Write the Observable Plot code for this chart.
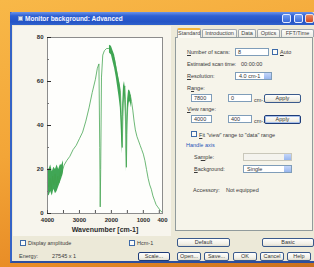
<!DOCTYPE html>
<html><head><meta charset="utf-8">
<script src="https://cdn.jsdelivr.net/npm/d3@7"></script>
<script src="https://cdn.jsdelivr.net/npm/@observablehq/plot@0.6"></script>
<style>
html,body{margin:0;padding:0;width:314px;height:267px;overflow:hidden;}
body{position:relative;background:linear-gradient(165deg,#f8b848 0%,#f3a537 45%,#e88c26 78%,#c96f1d 100%);font-family:"Liberation Sans",Arial,sans-serif;}
.a{position:absolute;box-sizing:border-box;}
.t{font-size:5.5px;line-height:6px;color:#3a3a3a;white-space:nowrap;}
.box{background:#fff;border:1px solid #7f9db9;font-size:5.5px;line-height:6px;color:#333;padding-left:2px;white-space:nowrap;}
.btn{border:1px solid #3a5a8c;border-radius:2px;background:linear-gradient(#fefefd,#f1efe6 70%,#dedbd0);font-size:5.5px;line-height:7px;color:#333;text-align:center;white-space:nowrap;}
.chk{width:6px;height:6px;border:1px solid #3d6aa8;background:#fbfbf8;}
.drop{background:#fff;border:1px solid #7f9db9;font-size:5.5px;line-height:6px;color:#333;padding-left:3px;}
.drop::after{content:"";position:absolute;right:0;top:0;width:7px;height:100%;background:linear-gradient(#c4d6fa,#98b6ee);}
.tab{height:8px;top:29px;border:1px solid #a0a8b0;border-bottom:none;background:linear-gradient(#fdfdfb,#ecebe4);font-size:5.5px;line-height:7px;color:#444;text-align:center;white-space:nowrap;border-radius:2px 2px 0 0;}
u{text-decoration:underline;}
#chart svg text{fill:#2b2b2b;}
</style></head>
<body>
<div class="a" id="win" style="left:10px;top:12px;width:306px;height:251px;background:#ece9d8;border-left:2px solid #3563c6;border-bottom:2px solid #2d4f9e;"></div>
<div class="a" style="left:10px;top:12px;width:304px;height:13px;background:linear-gradient(#6b93ea,#2f60d2 30%,#2454c6 75%,#3062cc);border-radius:3px 3px 0 0;"></div>
<div class="a" style="left:18px;top:16px;width:5px;height:5px;background:#dfe6f4;border:1px solid #8aa0c8;"></div>
<div class="a" style="left:25px;top:15px;font-size:6.5px;line-height:7px;font-weight:bold;color:#f4f6ff;white-space:nowrap;">Monitor background: Advanced</div>
<div class="a" style="left:282px;top:14px;width:9px;height:9px;border:1px solid #dfe8ff;border-radius:2px;background:linear-gradient(#6f9af0,#3a6ad8);"></div>
<div class="a" style="left:294px;top:14px;width:9px;height:9px;border:1px solid #e8eeff;border-radius:2px;background:linear-gradient(#7aa2f2,#3c6cd8);"></div>
<div class="a" style="left:305px;top:14px;width:9px;height:9px;border:1px solid #f2e0d8;border-radius:2px;background:linear-gradient(#ec8a60,#cf4a22);"></div>

<div class="a" style="left:13px;top:26px;width:158px;height:210px;background:#f7f5ed;"></div>
<div class="a" id="chart" style="left:10px;top:25px;width:160px;height:212px;"></div>

<div class="a chk" style="left:20px;top:240px;"></div>
<div class="a t" style="left:28px;top:240px;">Display amplitude</div>
<div class="a chk" style="left:129px;top:240px;"></div>
<div class="a t" style="left:137px;top:240px;">Hcm-1</div>
<div class="a t" style="left:19px;top:253px;">Energy:</div>
<div class="a t" style="left:52px;top:253px;">27545 x 1</div>

<!-- tabs -->
<div class="a" style="left:175px;top:37px;width:138px;height:194px;background:#f6f4ea;border:1px solid #919b9c;"></div>
<div class="a tab" style="left:177px;top:28px;height:10px;width:24px;background:#faf9f3;border-top:2px solid #f2b53a;">Standard</div>
<div class="a tab" style="left:202px;width:35px;">Introduction</div>
<div class="a tab" style="left:238px;width:18px;">Data</div>
<div class="a tab" style="left:257px;width:23px;">Optics</div>
<div class="a tab" style="left:281px;width:33px;">FFT/Time</div>

<div class="a t" style="left:187px;top:49px;"><u>N</u>umber of scans:</div>
<div class="a box" style="left:235px;top:48px;width:34px;height:8px;">8</div>
<div class="a chk" style="left:272px;top:49px;"></div>
<div class="a t" style="left:280px;top:49px;"><u>A</u>uto</div>
<div class="a t" style="left:187px;top:61px;letter-spacing:-0.1px;">Estimated scan time:</div>
<div class="a t" style="left:241px;top:61px;">00:00:00</div>
<div class="a t" style="left:187px;top:73px;"><u>R</u>esolution:</div>
<div class="a drop" style="left:235px;top:72px;width:37px;height:8px;">4.0 cm-1</div>
<div class="a t" style="left:187px;top:85px;">R<u>a</u>nge:</div>
<div class="a box" style="left:191px;top:94px;width:21px;height:8px;">7800</div>
<div class="a box" style="left:228px;top:94px;width:24px;height:8px;">0</div>
<div class="a t" style="left:254px;top:97px;">cm-1</div>
<div class="a btn" style="left:264px;top:94px;width:37px;height:9px;">Apply</div>
<div class="a t" style="left:187px;top:106px;"><u>V</u>iew range:</div>
<div class="a box" style="left:191px;top:115px;width:21px;height:8px;">4000</div>
<div class="a box" style="left:228px;top:115px;width:24px;height:8px;">400</div>
<div class="a t" style="left:254px;top:118px;">cm-1</div>
<div class="a btn" style="left:264px;top:115px;width:37px;height:9px;border:1px solid #1e3c78;box-shadow:inset 0 0 0 1px #a8c0ec;">Apply</div>
<div class="a chk" style="left:191px;top:131px;"></div>
<div class="a t" style="left:199px;top:132px;"><u>F</u>it "view" range to "data" range</div>
<div class="a t" style="left:186px;top:142px;color:#2a55b8;">Handle axis</div>
<div class="a t" style="left:194px;top:154px;">Sa<u>m</u>ple:</div>
<div class="a drop" style="left:243px;top:153px;width:49px;height:8px;background:#f4f3ee;border-color:#c9c7ba;"></div>
<div class="a t" style="left:194px;top:166px;"><u>B</u>ackground:</div>
<div class="a drop" style="left:243px;top:165px;width:49px;height:8px;">Single</div>
<div class="a t" style="left:193px;top:187px;">Accessory:</div>
<div class="a t" style="left:226px;top:187px;">Not equipped</div>

<div class="a btn" style="left:177px;top:238px;width:53px;height:9px;">Default</div>
<div class="a btn" style="left:262px;top:238px;width:52px;height:9px;">Basic</div>
<div class="a btn" style="left:138px;top:252px;width:32px;height:9px;border:1px solid #1e3c78;">Scale...</div>
<div class="a btn" style="left:177px;top:252px;width:24px;height:9px;">Open...</div>
<div class="a btn" style="left:204px;top:252px;width:25px;height:9px;">Save...</div>
<div class="a btn" style="left:233px;top:252px;width:24px;height:9px;">OK</div>
<div class="a btn" style="left:260px;top:252px;width:24px;height:9px;">Cancel</div>
<div class="a btn" style="left:287px;top:252px;width:24px;height:9px;">Help</div>

<script>
// Background single-beam spectrum (wavenumber in cm-1, signal)
const wavenumber = [4000,3960,3920,3880,3840,3800,3760,3720,3680,3640,3600,3560,3520,3480,3400,3300,3200,3100,3000,2900,2800,2700,2600,2500,2440,2390,2365,2350,2335,2310,2270,2220,2150,2080,2000,1950,1900,1850,1800,1760,1720,1690,1660,1640,1610,1580,1560,1545,1530,1515,1490,1450,1410,1370,1330,1290,1250,1200,1150,1100,1050,1000,950,900,850,800,750,700,650,600,550,500,450,400];
const signal = [14,12,16,11,17,13,18,12,17,14,19,17,20,22,24,26,29,31,34,37,42,48,55,61,66,68,30,3,20,62,72,74,75,75,74,72,70,66,62,59,56,45,30,44,56,58,52,38,21,36,48,53,54,51,47,42,38,35,33,31,29,27,24,20,16,13,11,8,6,4,3,2,1,0.5];

// Envelope of the dense (noisy) water-vapour regions
const noiseRegion = ["hi","hi","hi","hi","hi","hi","hi","hi","hi","hi","hi",
  "mid","mid","mid","mid","mid","mid","mid","mid","mid","mid","mid","mid","mid","mid","mid","mid","mid","mid","mid","mid","mid","mid"];
const noiseWavenumber = [4000,3950,3900,3850,3800,3750,3700,3650,3600,3550,3500,
  2060,2000,1950,1900,1850,1800,1760,1720,1690,1665,1645,1620,1590,1565,1545,1530,1515,1490,1460,1430,1400,1370];
const noiseLow = [9,8,10,8,11,9,10,12,14,16,19,
  73,72,69,66,62,57,53,48,38,27,36,50,54,46,32,19,30,44,50,51,50,48];
const noiseHigh = [21,20,22,19,21,20,22,20,22,22,24,
  76.5,76,74,72,68,64,61,58,50,40,50,58,60,57,46,30,44,52,56,56,55,52];

const xTickLabels = [4000,3000,2000,1000,400];
const xMinorTicks = [4000,3500,3000,2500,2000,1500,1000,500];
const yTickLabels = [0,20,40,60,80];
const yMinorTicks = [10,30,50,70];
const xTitle = ["Wavenumber [cm-1]"];

const line = wavenumber.map((w, i) => ({w, v: signal[i]}));
const band = noiseWavenumber.map((w, i) => ({w, lo: noiseLow[i], hi: noiseHigh[i], r: noiseRegion[i]}));

const chart = Plot.plot({
  width: 160, height: 212,
  marginLeft: 37, marginRight: 8, marginTop: 12, marginBottom: 24,
  style: {background: "transparent", fontFamily: "Liberation Sans, Arial, sans-serif", fontSize: "6px", color: "#2b2b2b", overflow: "visible"},
  x: {domain: [4000, 400], label: null},
  y: {domain: [0, 80], label: null},
  marks: [
    Plot.frame({fill: "#fefefc", stroke: null}),
    Plot.areaY(band, {x: "w", y1: "lo", y2: "hi", z: "r", fill: "#1f9637", fillOpacity: 0.85}),
    Plot.line(line, {x: "w", y: "v", stroke: "#3fa24c", strokeWidth: 0.9, strokeOpacity: 0.85}),
    Plot.frame({stroke: "#8c8c8c"}),
    Plot.axisX({ticks: xMinorTicks, tickSize: -3, tickFormat: () => "", stroke: "#555"}),
    Plot.axisX({ticks: xTickLabels, tickSize: 0, tickPadding: 4, fontWeight: "bold", tickFormat: d => String(d)}),
    Plot.axisY({ticks: yTickLabels, tickSize: -4, tickPadding: 8, fontWeight: "bold", tickFormat: d => String(d)}),
    Plot.axisY({ticks: yMinorTicks, tickSize: -2, tickFormat: () => "", stroke: "#777"}),
    Plot.text(xTitle, {frameAnchor: "bottom", dy: 18, fontSize: 7, fontWeight: "bold"})
  ]
});
document.getElementById("chart").appendChild(chart);
</script>
</body></html>
